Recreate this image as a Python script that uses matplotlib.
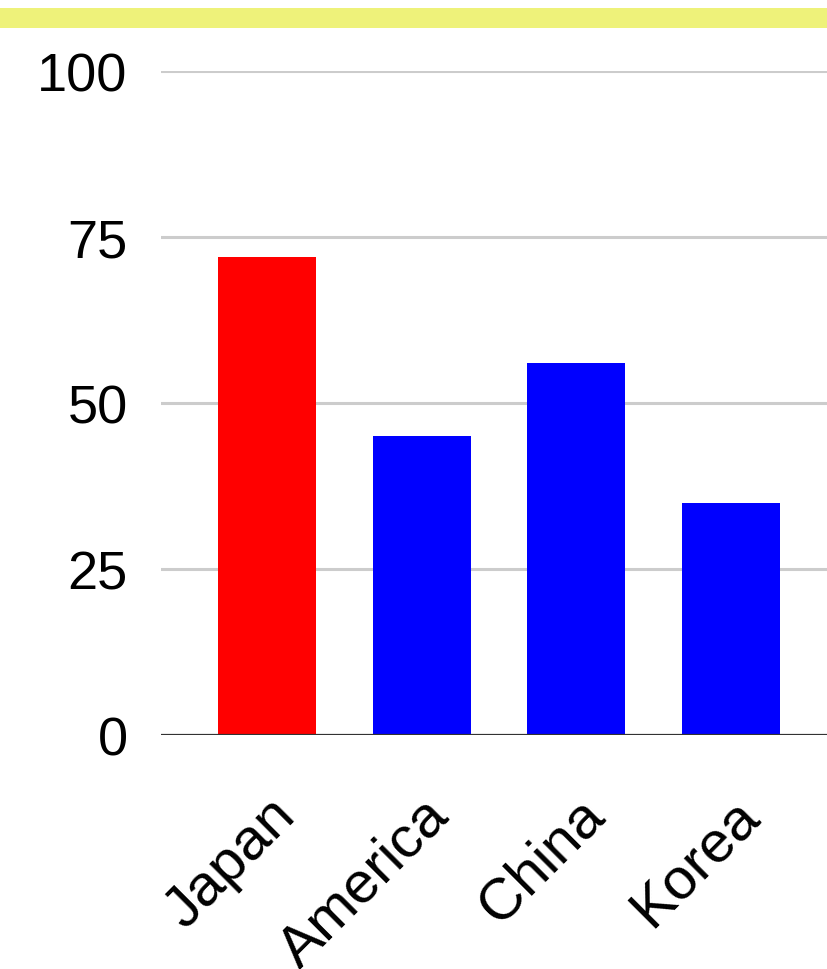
import matplotlib.pyplot as plt
import matplotlib.transforms as mtransforms
from matplotlib.patches import Rectangle

countries = ['Japan', 'America', 'China', 'Korea']
values = [72, 45, 56, 35]
colors = ['#ff0000', '#0000ff', '#0000ff', '#0000ff']
yticks = [0, 25, 50, 75, 100]

plt.rcParams['font.family'] = ['Liberation Sans', 'DejaVu Sans']

fig = plt.figure(figsize=(8.28, 9.70), dpi=100)

# yellow strip at the top
fig.patches.append(Rectangle((0, 1 - 29 / 970), 1, 20 / 970, transform=fig.transFigure,
                             facecolor='#eef27a', edgecolor='none'))

ax = fig.add_axes([161 / 828, 1 - 736 / 970, 1 - 161 / 828, (736 - 72) / 970])

x = range(len(countries))
ax.bar(x, values, width=0.634, color=colors, zorder=3)

ax.set_xlim(-0.685, 3.627)
ax.set_ylim(0, 100)
ax.set_yticks(yticks)
ax.set_yticklabels([str(t) for t in yticks], fontsize=39)
ax.set_xticks(list(x))
ax.set_xticklabels(countries, fontsize=42, rotation=45, ha='right', rotation_mode='anchor')

# nudge rotated labels a little to the right
shift = mtransforms.ScaledTranslation(8 / 100, 0, fig.dpi_scale_trans)
for lbl in ax.get_xticklabels():
    lbl.set_transform(lbl.get_transform() + shift)

ax.grid(axis='y', color='#cccccc', linewidth=2.2, zorder=0)
ax.axhline(0, color='#333333', linewidth=2.3, zorder=4)
ax.tick_params(axis='both', length=0)
ax.tick_params(axis='y', pad=24)
ax.tick_params(axis='x', pad=38)
for s in ax.spines.values():
    s.set_visible(False)

fig.savefig('out.png', dpi=100)
